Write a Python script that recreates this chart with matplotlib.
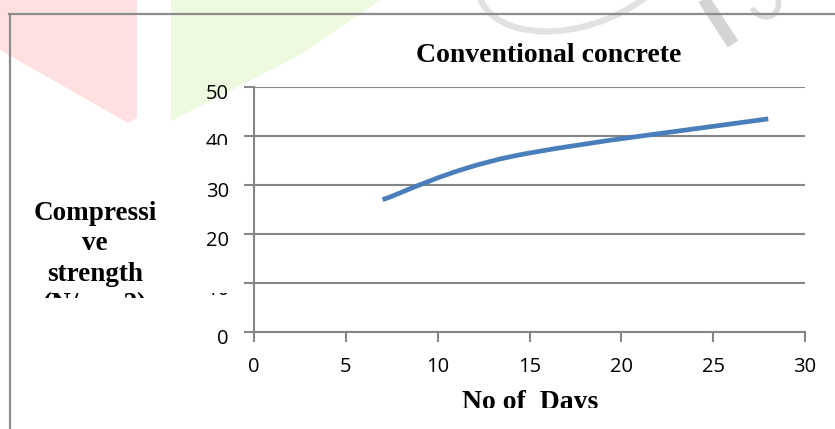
import matplotlib
matplotlib.use("Agg")
import matplotlib.pyplot as plt
from matplotlib.patches import Rectangle, Polygon, PathPatch
from matplotlib.path import Path
from matplotlib.lines import Line2D
import matplotlib.transforms as mtransforms

# ---- data ----
days = [7, 14, 28]
strength = [27.0, 35.8, 43.5]
x_ticks = [0, 5, 10, 15, 20, 25, 30]
y_ticks = [0, 10, 20, 30, 40, 50]
title = "Conventional concrete"
x_label = "No of  Days"
y_label = "Compressi\nve\nstrength\n(N/mm2)"

W, H = 835, 429
fig = plt.figure(figsize=(W / 100, H / 100), dpi=100)
fig.patch.set_facecolor("white")

def fx(px):
    return px / W

def fy(py):
    return 1 - py / H

# ---- faint watermark background ----
wm = [
    ([(0, 0), (137, 0), (137, 118), (128, 123), (0, 50)], "#ffe0e0"),
    ([(171, 0), (380, 0), (300, 55), (171, 121)], "#eefadf"),
]
for pts, col in wm:
    fig.patches.append(Polygon([(fx(a), fy(b)) for a, b in pts], closed=True,
                               transform=fig.transFigure, facecolor=col,
                               edgecolor="none", zorder=0))
arc = Path([(fx(480), fy(-2)), (fx(495), fy(40)), (fx(580), fy(45)), (fx(645), fy(-2))],
           [Path.MOVETO, Path.CURVE4, Path.CURVE4, Path.CURVE4])
fig.patches.append(PathPatch(arc, transform=fig.transFigure, facecolor="none",
                             edgecolor="#e2e2e2", lw=4.5, zorder=0))
fig.lines.append(Line2D([fx(703), fx(733)], [fy(-2), fy(44)], transform=fig.transFigure,
                        color="#d4d4d4", lw=9, zorder=0, solid_capstyle="butt"))
curl = Path([(fx(778), fy(-2)), (fx(782), fy(20)), (fx(760), fy(22)), (fx(752), fy(8))],
            [Path.MOVETO, Path.CURVE4, Path.CURVE4, Path.CURVE4])
fig.patches.append(PathPatch(curl, transform=fig.transFigure, facecolor="none",
                             edgecolor="#dcdcdc", lw=4, zorder=0))

# ---- outer chart frame ----
fig.lines.append(Line2D([fx(9), fx(835)], [fy(14), fy(14)], transform=fig.transFigure,
                        color="#8c8c8c", lw=1.6, zorder=1))
fig.lines.append(Line2D([fx(10), fx(10)], [fy(14), fy(430)], transform=fig.transFigure,
                        color="#8c8c8c", lw=1.6, zorder=1))

# ---- axes ----
ax = fig.add_axes([fx(254), fy(332), fx(805) - fx(254), fy(87) - fy(332)])
ax.set_facecolor("none")
ax.set_xlim(0, 30)
ax.set_ylim(0, 50)
for s in ["top", "right"]:
    ax.spines[s].set_visible(False)
for s in ["left", "bottom"]:
    ax.spines[s].set_color("#868686")
    ax.spines[s].set_linewidth(1.5)
ax.yaxis.grid(True, color="#868686", lw=1.5)
ax.set_axisbelow(True)

ax.set_xticks(x_ticks)
ax.set_xticklabels([str(v) for v in x_ticks], fontfamily="Open Sans")
ax.set_yticks(y_ticks)
ax.set_yticklabels([])
ax.tick_params(axis="both", colors="#868686", width=1.5, length=7, labelcolor="black",
               labelsize=14.5)
ax.tick_params(axis="x", pad=11)

# y tick labels drawn as figure texts so two of them can be partly clipped as in the reference
ylab_tr = mtransforms.offset_copy(ax.get_yaxis_transform(), fig, x=-25, y=-7, units="dots")
for v in y_ticks:
    t = fig.text(0, v, str(v), transform=ylab_tr, ha="right", va="center",
                 fontsize=14.5, family="Open Sans", color="black")
    if v == 40:
        t.set_clip_on(True)
        t.set_clip_path(Rectangle((0, fy(145)), 1, 1, transform=fig.transFigure))
    if v == 10:
        t.set_clip_on(True)
        t.set_clip_path(Rectangle((0, 0), 1, fy(293), transform=fig.transFigure))

# ---- smoothed series (spreadsheet-style Bezier smoothing) ----
pts = list(zip(days, strength))
verts = [pts[0]]
codes = [Path.MOVETO]
n = len(pts)
for i in range(n - 1):
    p0 = pts[i - 1] if i > 0 else pts[i]
    p1 = pts[i]
    p2 = pts[i + 1]
    p3 = pts[i + 2] if i + 2 < n else pts[i + 1]
    c1 = (p1[0] + (p2[0] - p0[0]) / 6, p1[1] + (p2[1] - p0[1]) / 6)
    c2 = (p2[0] - (p3[0] - p1[0]) / 6, p2[1] - (p3[1] - p1[1]) / 6)
    verts += [c1, c2, p2]
    codes += [Path.CURVE4] * 3
ax.add_patch(PathPatch(Path(verts, codes), facecolor="none", edgecolor="#4a7ebb",
                       lw=3.4, capstyle="butt", zorder=3))

# ---- texts ----
serif = "Liberation Serif"
fig.text(fx(549), fy(56), title, ha="center", va="center", fontsize=20,
         fontweight="bold", family=serif)
yl = fig.text(fx(95), fy(259), y_label, ha="center", va="center", fontsize=19.5,
              fontweight="bold", family=serif, linespacing=1.27, multialignment="center")
yl.set_clip_on(True)
yl.set_clip_path(Rectangle((0, fy(298)), 1, 1, transform=fig.transFigure))
xl = fig.text(fx(530), fy(390), x_label, ha="center", va="top", fontsize=20,
              fontweight="bold", family=serif)
xl.set_clip_on(True)
xl.set_clip_path(Rectangle((0, fy(408)), 1, 1, transform=fig.transFigure))

fig.savefig("out.png", dpi=100)
